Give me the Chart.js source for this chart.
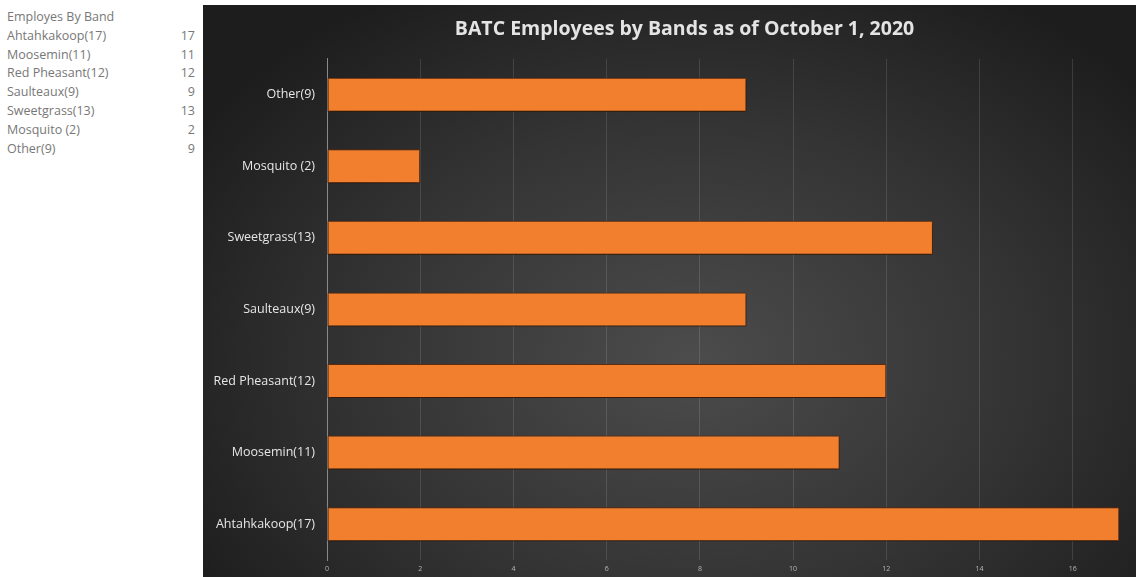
<!DOCTYPE html>
<html>
<head>
<meta charset="utf-8">
<script src="https://cdn.jsdelivr.net/npm/chart.js@4"></script>
<style>
  html, body { margin: 0; padding: 0; background: #fff; width: 1136px; height: 577px; overflow: hidden; }
  #sheet { position: absolute; left: 0; top: 8px; width: 200px; font-family: "Open Sans", sans-serif; font-size: 12.5px; color: #777; }
  #sheet div { height: 18.8px; line-height: 18.8px; position: relative; padding-left: 7px; }
  #sheet span { position: absolute; right: 5px; top: 0; }
  #clip { position: absolute; left: 203px; top: 5px; width: 933px; height: 572px; overflow: hidden; }
  #wrap { position: absolute; left: 0; top: 0; width: 976px; height: 572px;
    background: radial-gradient(ellipse 60% 75% at 50% 62%, #4c4c4c 0%, #343434 55%, #1d1d1d 100%); }
</style>
</head>
<body>
<div id="sheet"></div>
<div id="clip"><div id="wrap"><canvas id="bands"></canvas></div></div>
<script>
// spreadsheet order (bottom to top in the chart)
var bands = ['Ahtahkakoop(17)', 'Moosemin(11)', 'Red Pheasant(12)', 'Saulteaux(9)', 'Sweetgrass(13)', 'Mosquito (2)', 'Other(9)'];
var employees = [17, 11, 12, 9, 13, 2, 9];
var xTicks = [0, 2, 4, 6, 8, 10, 12, 14, 16, 18];

// the little table on the left
var sheet = document.getElementById('sheet');
var head = document.createElement('div');
head.textContent = 'Employes By Band';
sheet.appendChild(head);
bands.forEach(function (b, i) {
    var row = document.createElement('div');
    row.textContent = b;
    var v = document.createElement('span');
    v.textContent = employees[i];
    row.appendChild(v);
    sheet.appendChild(row);
});

// soft shadow under the bars
var barShadow = {
    id: 'barShadow',
    beforeDatasetsDraw: function (chart) {
        var c = chart.ctx;
        c.save();
        c.shadowColor = 'rgba(0,0,0,0.6)';
        c.shadowBlur = 4;
        c.shadowOffsetY = 2;
    },
    afterDatasetsDraw: function (chart) {
        chart.ctx.restore();
    }
};

var ctx = document.getElementById('bands').getContext('2d');
var bandsChart = new Chart(ctx, {
    type: 'bar',
    data: {
        labels: bands,
        datasets: [{
            data: employees,
            backgroundColor: '#f27f2e',
            borderColor: 'rgba(110,45,5,0.9)',
            borderWidth: 1,
            borderSkipped: false,
            barPercentage: 0.95,
            categoryPercentage: 0.5
        }]
    },
    options: {
        indexAxis: 'y',
        responsive: true,
        maintainAspectRatio: false,
        animation: false,
        layout: { padding: { left: 0, right: 13, top: 0, bottom: 0 } },
        plugins: {
            legend: { display: false },
            tooltip: { enabled: false },
            title: {
                display: true,
                text: 'BATC Employees by Bands as of October 1, 2020',
                color: '#e4e4e4',
                font: { family: 'Open Sans', size: 19.5, weight: 'bold' },
                padding: { top: 13, bottom: 17.5 }
            }
        },
        scales: {
            x: {
                min: 0,
                max: 18,
                afterBuildTicks: function (scale) {
                    scale.ticks = xTicks.map(function (v) { return { value: v }; });
                },
                afterFit: function (scale) { scale.height = 17; },
                grid: { color: 'rgba(255,255,255,0.12)', drawTicks: false },
                border: { display: false },
                ticks: { color: '#b8b8b8', font: { family: 'Open Sans', size: 7 }, padding: 5 }
            },
            y: {
                reverse: true,
                afterFit: function (scale) { scale.width = 124; },
                grid: { display: false },
                border: { display: true, color: '#8a8a8a', width: 1 },
                ticks: { color: '#e6e6e6', font: { family: 'Open Sans', size: 12.5 }, padding: 4 }
            }
        }
    },
    plugins: [barShadow]
});
</script>
</body>
</html>
